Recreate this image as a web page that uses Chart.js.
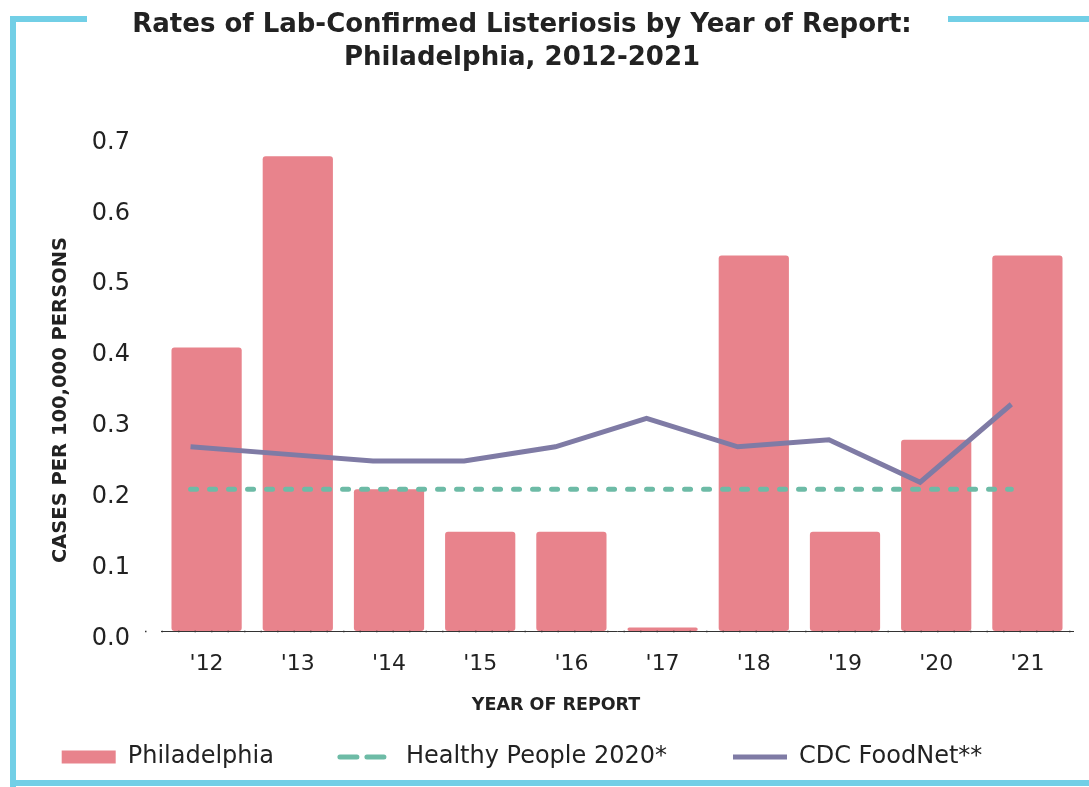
<!DOCTYPE html>
<html>
<head>
<meta charset="utf-8">
<title>Listeriosis rates, Philadelphia 2012-2021</title>
<script src="https://cdn.jsdelivr.net/npm/chart.js@4.4.1/dist/chart.umd.min.js"></script>
<style>
    html, body { margin: 0; padding: 0; background: #fff; }
    #wrap { position: relative; width: 1089px; height: 787px; }
    #chart { position: absolute; left: 0; top: 0; }
    .frame { position: absolute; background: #72cfe6; }
</style>
</head>
<body>
<div id="wrap">
    <canvas id="chart" width="1089" height="787"></canvas>
    <div class="frame" style="left:10px; top:16px; width:77px; height:6px;"></div>
    <div class="frame" style="left:948px; top:16px; width:141px; height:6px;"></div>
    <div class="frame" style="left:10px; top:16px; width:6px; height:771px;"></div>
    <div class="frame" style="left:10px; top:780px; width:1079px; height:6px;"></div>
</div>
<script>
// Data
const years = ["'12", "'13", "'14", "'15", "'16", "'17", "'18", "'19", "'20", "'21"];
const philadelphia = [0.40, 0.67, 0.20, 0.14, 0.14, 0.005, 0.53, 0.14, 0.27, 0.53];
const healthyPeople2020 = [0.2, 0.2, 0.2, 0.2, 0.2, 0.2, 0.2, 0.2, 0.2, 0.2];
const cdcFoodNet = [0.26, 0.25, 0.24, 0.24, 0.26, 0.30, 0.26, 0.27, 0.21, 0.32];
const yTicks = [0, 0.1, 0.2, 0.3, 0.4, 0.5, 0.6, 0.7];

const X_TITLE = 'YEAR OF REPORT';
const Y_TITLE = 'CASES PER 100,000 PERSONS';

// Line points sit a bit left of the bar centres in the original
const LINE_SHIFT = 0.176;

const FONT = "'DejaVu Sans', 'Open Sans', sans-serif";
const TEXT = '#222222';
const BAR = '#e8838c';
const TEAL = '#6dbba6';
const PURPLE = '#7f7ba5';

const asPoints = (arr) => arr.map((v, i) => ({ x: i, y: v }));

// Dotted baseline drawn over the bars
const baselineDots = {
    id: 'baselineDots',
    afterDatasetsDraw(chart) {
        const { ctx, chartArea, scales } = chart;
        const y = scales.y.getPixelForValue(0);
        ctx.save();
        ctx.strokeStyle = '#333';
        ctx.lineWidth = 1.5;
        ctx.setLineDash([1.5, 15]);
        ctx.beginPath();
        ctx.moveTo(chartArea.left - 16, y + 0.5);
        ctx.lineTo(chartArea.right, y + 0.5);
        ctx.stroke();
        ctx.restore();
    }
};

// Axis titles: the original places them off the plot centre
const axisTitles = {
    id: 'axisTitles',
    afterDraw(chart) {
        const { ctx } = chart;
        ctx.save();
        ctx.fillStyle = TEXT;
        ctx.textAlign = 'center';
        ctx.textBaseline = 'middle';
        ctx.font = `bold 17.5px ${FONT}`;
        ctx.fillText(X_TITLE, 556, 705);
        ctx.translate(61, 400);
        ctx.rotate(-Math.PI / 2);
        ctx.font = `bold 19.5px ${FONT}`;
        ctx.fillText(Y_TITLE, 0, 0);
        ctx.restore();
    }
};

const config = {
    data: {
        labels: years,
        datasets: [
            {
                type: 'line',
                label: 'CDC FoodNet**',
                data: asPoints(cdcFoodNet),
                xAxisID: 'x2',
                borderColor: PURPLE,
                borderWidth: 5,
                pointRadius: 0,
                tension: 0,
                order: 0
            },
            {
                type: 'line',
                label: 'Healthy People 2020*',
                data: asPoints(healthyPeople2020),
                xAxisID: 'x2',
                borderColor: TEAL,
                borderWidth: 5,
                borderDash: [6, 13],
                borderCapStyle: 'round',
                pointRadius: 0,
                order: 1
            },
            {
                type: 'bar',
                label: 'Philadelphia',
                data: philadelphia,
                xAxisID: 'x',
                backgroundColor: BAR,
                borderRadius: 3,
                borderSkipped: false,
                grouped: false,
                barPercentage: 0.77,
                categoryPercentage: 1.0,
                order: 2
            }
        ]
    },
    options: {
        responsive: false,
        animation: false,
        layout: {
            padding: { top: 9, left: -29, right: 16, bottom: 8 }
        },
        plugins: {
            title: {
                display: true,
                text: ['Rates of Lab-Confirmed Listeriosis by Year of Report:', 'Philadelphia, 2012-2021'],
                color: TEXT,
                font: { family: FONT, size: 26, weight: 'bold', lineHeight: 1.27 },
                padding: { top: 0, bottom: 60 }
            },
            legend: {
                position: 'bottom',
                reverse: true,
                labels: {
                    color: TEXT,
                    font: { family: FONT, size: 24 },
                    usePointStyle: true,
                    boxWidth: 62,
                    boxHeight: 13,
                    pointStyleWidth: 54,
                    padding: 66,
                    generateLabels(chart) {
                        return chart.data.datasets.map((ds, i) => {
                            const isBar = ds.type === 'bar';
                            const dashed = !!ds.borderDash;
                            return {
                                text: ds.label,
                                datasetIndex: i,
                                fillStyle: isBar ? BAR : ds.borderColor,
                                strokeStyle: isBar ? BAR : ds.borderColor,
                                lineWidth: isBar ? 0 : 5,
                                lineDash: dashed ? [17, 10] : [],
                                lineCap: dashed ? 'round' : 'butt',
                                pointStyle: isBar ? 'rect' : 'line',
                                fontColor: TEXT
                            };
                        });
                    }
                }
            },
            tooltip: { enabled: false }
        },
        scales: {
            x: {
                type: 'category',
                offset: true,
                grid: { display: false, drawTicks: false },
                border: { display: true, color: '#333', width: 1 },
                ticks: {
                    color: TEXT,
                    font: { family: FONT, size: 22 },
                    padding: 20
                },
                afterFit(axis) {
                    axis.height = 48;
                }
            },
            x2: {
                type: 'linear',
                display: false,
                min: -0.5 + LINE_SHIFT,
                max: years.length - 0.5 + LINE_SHIFT
            },
            y: {
                min: 0,
                max: 0.7,
                afterBuildTicks(axis) {
                    axis.ticks = yTicks.map(v => ({ value: v }));
                },
                grid: { display: false, drawTicks: false },
                border: { display: false },
                ticks: {
                    color: TEXT,
                    font: { family: FONT, size: 24 },
                    padding: 31,
                    labelOffset: 7.5,
                    callback: (v) => Number(v).toFixed(1)
                },
                afterFit(axis) {
                    axis.width = 190;
                }
            }
        }
    },
    plugins: [baselineDots, axisTitles]
};

new Chart(document.getElementById('chart'), config);
</script>
</body>
</html>
